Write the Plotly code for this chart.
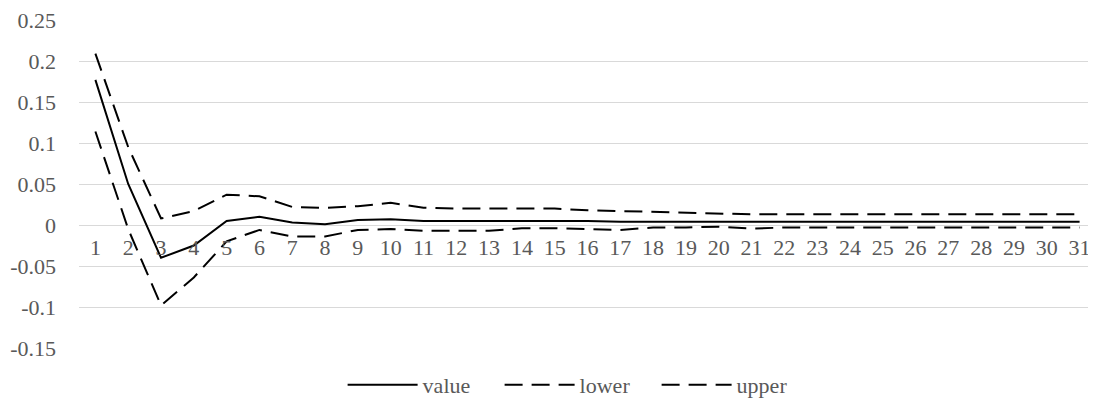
import plotly.graph_objects as go

periods = [str(i) for i in range(1, 32)]

value = [0.177, 0.050, -0.040, -0.025, 0.005, 0.010, 0.003, 0.001, 0.006, 0.007,
         0.005, 0.005, 0.005, 0.005, 0.005, 0.005, 0.004, 0.004, 0.004, 0.004,
         0.004, 0.004, 0.004, 0.004, 0.004, 0.004, 0.004, 0.004, 0.004, 0.004, 0.004]

lower = [0.114, -0.005, -0.098, -0.064, -0.020, -0.006, -0.014, -0.014, -0.006, -0.005,
         -0.007, -0.007, -0.007, -0.004, -0.004, -0.005, -0.006, -0.003, -0.003, -0.002,
         -0.0045, -0.003, -0.003, -0.003, -0.003, -0.003, -0.003, -0.003, -0.003, -0.003, -0.003]

upper = [0.209, 0.095, 0.008, 0.017, 0.037, 0.035, 0.022, 0.021, 0.023, 0.027,
         0.021, 0.020, 0.020, 0.020, 0.020, 0.018, 0.017, 0.016, 0.015, 0.014,
         0.013, 0.013, 0.013, 0.013, 0.013, 0.013, 0.013, 0.013, 0.013, 0.013, 0.013]

y_tick_vals = [0.25, 0.2, 0.15, 0.1, 0.05, 0, -0.05, -0.1, -0.15]
y_tick_text = ["0.25", "0.2", "0.15", "0.1", "0.05", "0", "-0.05", "-0.1", "-0.15"]

FONT = "Liberation Serif"
GRAY = "#595959"
FS = 22

fig = go.Figure()
fig.add_trace(go.Scatter(x=periods, y=value, name="value", mode="lines",
                         line=dict(color="black", width=2)))
fig.add_trace(go.Scatter(x=periods, y=lower, name="lower", mode="lines",
                         line=dict(color="black", width=2, dash="18px,9px")))
fig.add_trace(go.Scatter(x=periods, y=upper, name="upper", mode="lines",
                         line=dict(color="black", width=2, dash="18px,9px")))

fig.update_layout(
    width=1088, height=404,
    margin=dict(l=71, r=0, t=12, b=64, autoexpand=False),
    paper_bgcolor="white", plot_bgcolor="white",
    font=dict(family=FONT, size=FS, color=GRAY),
    showlegend=True,
    legend=dict(orientation="h", xref="container", yref="container",
                x=0.524, xanchor="center", y=0.067, yanchor="middle",
                font=dict(family=FONT, size=FS, color=GRAY),
                itemwidth=70, entrywidth=72, entrywidthmode="pixels",
                tracegroupgap=0),
    xaxis=dict(type="category", range=[-0.5, 30.5], showgrid=False,
               zeroline=False, showline=False,
               anchor="free", position=0.375, ticks="",
               ticklabelstandoff=7, ticklabeloverflow="allow",
               tickfont=dict(family=FONT, size=FS, color=GRAY)),
    yaxis=dict(range=[-0.15, 0.25], tickvals=y_tick_vals, ticktext=y_tick_text,
               showgrid=True, gridcolor="#d9d9d9", gridwidth=1,
               zeroline=True, zerolinecolor="#d9d9d9", zerolinewidth=1,
               showline=False, ticks="", ticklabelstandoff=22,
               ticklabeloverflow="allow",
               tickfont=dict(family=FONT, size=FS, color=GRAY)),
)

fig.write_html("out.html")
